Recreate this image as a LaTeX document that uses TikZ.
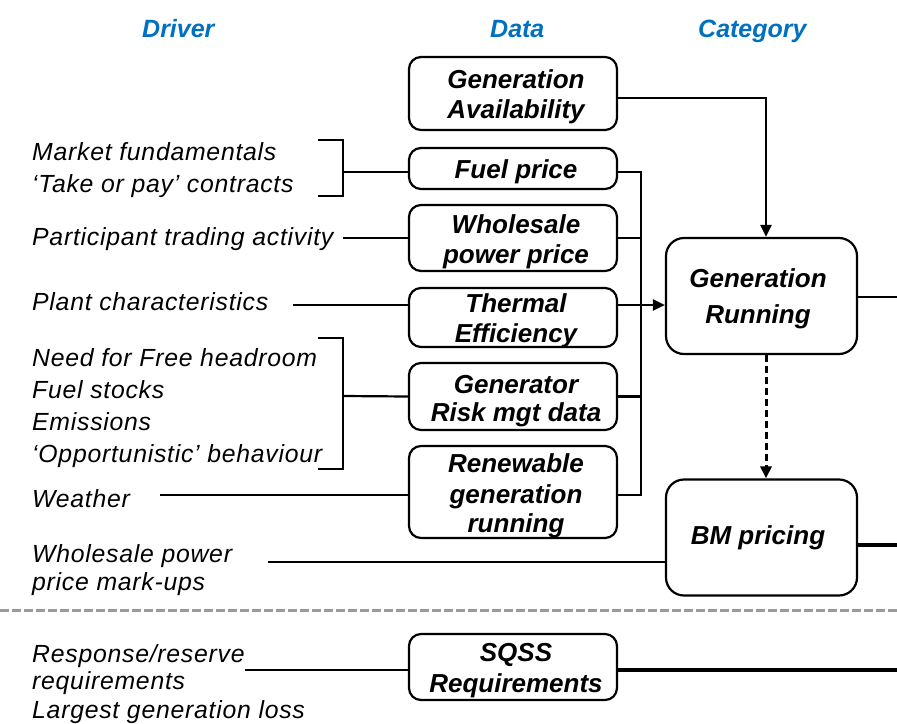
\documentclass[tikz,border=0pt]{standalone}
\usepackage{fontspec}
\setmainfont{Liberation Sans}
\newfontfamily\drvfont[LetterSpace=3]{Liberation Sans}
\usetikzlibrary{arrows.meta}
\definecolor{hdrblue}{HTML}{0070C0}
\definecolor{sepgray}{HTML}{9A9A9A}
\begin{document}
\begin{tikzpicture}[x=1pt,y=-1pt,
  databox/.style={draw, line width=2.2pt, rounded corners=12pt, minimum width=208pt, inner sep=0pt},
  catbox/.style={draw, line width=2.2pt, rounded corners=18pt, minimum width=191pt, minimum height=116pt, inner sep=0pt},
  dtxt/.style={anchor=base, inner sep=0pt, font=\fontsize{26}{30}\selectfont\bfseries\itshape},
  drv/.style={anchor=base west, inner sep=0pt, font=\drvfont\itshape\fontsize{24.8}{30}\selectfont},
  hdr/.style={anchor=base west, inner sep=0pt, text=hdrblue, font=\fontsize{25}{30}\selectfont\bfseries\itshape},
  conn/.style={line width=2.2pt},
  tip/.style={-{Triangle[length=12pt,width=11pt]}}
]
\useasboundingbox (0,0) rectangle (897,723);

% headers
\node[hdr] (hdrv) at (142,37) {Driver};
\node[hdr] (hdat) at (490,37) {Data};
\node[hdr] (hcat) at (698,37) {Category};

% data boxes
\node[databox, minimum height=73pt] (ga) at (513,93.5) {};
\node[databox, minimum height=41pt] (fp) at (513,168.5) {};
\node[databox, minimum height=66pt] (wp) at (513,238) {};
\node[databox, minimum height=59pt] (te) at (513,317.5) {};
\node[databox, minimum height=67pt] (gr) at (513,396.5) {};
\node[databox, minimum height=92pt] (rg) at (513,492) {};
\node[databox, minimum height=66pt] (sq) at (513,667) {};
\node[catbox] (gen) at (761.5,296) {};
\node[catbox] (bm) at (761.5,537.5) {};

% data texts
\node[dtxt] (ga1) at (516,88) {Generation};
\node[dtxt] (ga2) at (516,118) {Availability};
\node[dtxt] (fp1) at (516,178) {Fuel price};
\node[dtxt] (wp1) at (516,233) {Wholesale};
\node[dtxt] (wp2) at (516,263) {power price};
\node[dtxt] (te1) at (516,312) {Thermal};
\node[dtxt] (te2) at (516,342) {Efficiency};
\node[dtxt] (gr1) at (516,393) {Generator};
\node[dtxt] (gr2) at (516,421) {Risk mgt data};
\node[dtxt] (rg1) at (516,472) {Renewable};
\node[dtxt] (rg2) at (516,503) {generation};
\node[dtxt] (rg3) at (516,532) {running};
\node[dtxt] (sq1) at (516,661) {SQSS};
\node[dtxt] (sq2) at (516,692) {Requirements};
\node[dtxt] (gen1) at (758,287) {Generation};
\node[dtxt] (gen2) at (758,323) {Running};
\node[dtxt] (bm1) at (758,544) {BM pricing};

% driver texts
\node[drv] (d1a) at (32,160) {Market fundamentals};
\node[drv] (d1b) at (32,192) {‘Take or pay’ contracts};
\node[drv] (d2) at (32,245) {Participant trading activity};
\node[drv] (d3) at (32,310) {Plant characteristics};
\node[drv] (d4a) at (32,366) {Need for Free headroom};
\node[drv] (d4b) at (32,398) {Fuel stocks};
\node[drv] (d4c) at (32,430) {Emissions};
\node[drv] (d4d) at (32,462) {‘Opportunistic’ behaviour};
\node[drv] (d5) at (32,507) {Weather};
\node[drv] (d6a) at (32,562) {Wholesale power};
\node[drv] (d6b) at (32,590) {price mark-ups};
\node[drv] (d7a) at (32,662) {Response/reserve};
\node[drv] (d7b) at (32,689) {requirements};
\node[drv] (d7c) at (32,718) {Largest generation loss};

% free ends
\coordinate (b1) at (343,172);
\coordinate (s2) at (343,238);
\coordinate (s3) at (293,305);
\coordinate (b2) at (343,396);
\coordinate (s5) at (160,495);
\coordinate (s6) at (268,562);
\coordinate (s7) at (245,670);
\coordinate (busT) at (641,172);
\coordinate (busB) at (641,495);
\coordinate (genR) at (897,297);
\coordinate (bmR) at (897,545);
\coordinate (sqR) at (897,670);
\coordinate (sepL) at (0,610);
\coordinate (sepR) at (897,610);

% brackets
\draw[conn] (318,140) -- (343,140) -- (343,196) -- (318,196);
\draw[conn] (318,338) -- (343,338) -- (343,469) -- (318,469);

% driver -> data
\draw[conn] (b1) -- ([yshift=-3.5pt]fp.west);
\draw[conn] (s2) -- (wp.west);
\draw[conn] (s3) -- ([yshift=12.5pt]te.west);
\draw[conn] (b2) -- (gr.west);
\draw[conn] (s5) -- ([yshift=-3pt]rg.west);
\draw[conn] (s6) -- ([yshift=-24.5pt]bm.west);
\draw[conn] (s7) -- ([yshift=-3pt]sq.west);

% data -> bus
\draw[conn] ([yshift=-3.5pt]fp.east) -- (busT) -- (busB) -- ([yshift=-3pt]rg.east);
\draw[conn] (wp.east) -- (wp.east -| busT);
\draw[conn] (gr.east) -- (gr.east -| busT);
\draw[conn, tip] ([yshift=12.5pt]te.east) -- ([yshift=12.5pt]te.east -| gen.west);

% availability -> running
\draw[line width=2.6pt, tip] ([yshift=-4.5pt]ga.east) -| ([xshift=4.5pt]gen.north);
% running -> BM (dashed)
\draw[line width=3pt, dash pattern=on 7pt off 4pt, tip] ([xshift=4.5pt]gen.south) -- ([xshift=4.5pt]bm.north);

% outputs
\draw[line width=2.8pt] ([yshift=-1pt]gen.east) -- (genR);
\draw[line width=4pt] ([yshift=-7.5pt]bm.east) -- (bmR);
\draw[line width=4pt] ([yshift=-3pt]sq.east) -- (sqR);

% separator
\draw[sepgray, line width=3pt, dash pattern=on 9pt off 3pt] (sepL) -- (sepR);
\end{tikzpicture}
\end{document}
